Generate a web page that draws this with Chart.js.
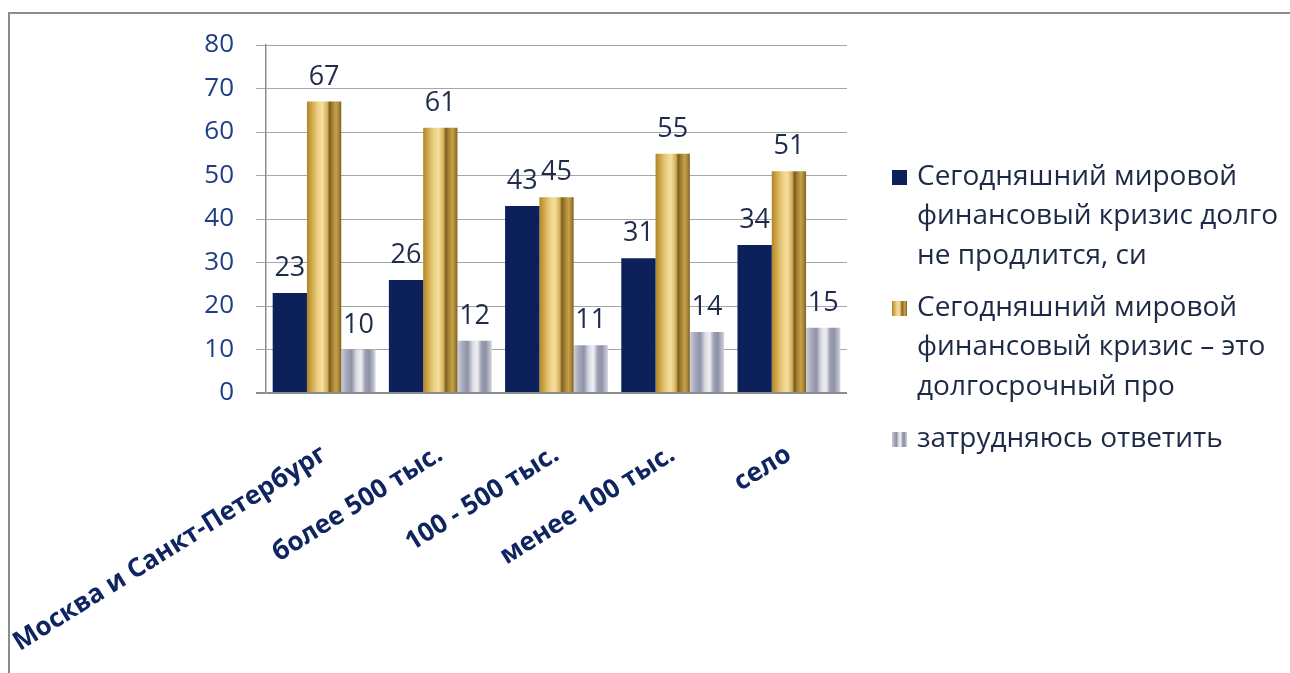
<!DOCTYPE html>
<html lang="ru">
<head>
<meta charset="utf-8">
<title>Финансовый кризис</title>
<script src="https://cdn.jsdelivr.net/npm/chart.js@4.4.0/dist/chart.umd.min.js"></script>
<style>
  html, body { margin: 0; padding: 0; background: #fff; }
  #wrap { position: relative; width: 1290px; height: 673px; overflow: hidden; }
  #frame {
    position: absolute; left: 8px; top: 12px; width: 1300px; height: 700px;
    border-left: 2px solid #8c8c8c; border-top: 2px solid #8c8c8c;
  }
  #chart-crisis { position: absolute; left: 0; top: 0; }
</style>
</head>
<body>
<div id="wrap">
  <div id="frame"></div>
  <canvas id="chart-crisis" width="1290" height="673"></canvas>
</div>
<script>
// data
var categories = ["Москва и Санкт-Петербург", "более 500 тыс.", "100 - 500 тыс.", "менее 100 тыс.", "село"];
var seriesShort = [23, 26, 43, 31, 34];
var seriesLong = [67, 61, 45, 55, 51];
var seriesUnsure = [10, 12, 11, 14, 15];
var seriesNames = [
  "Сегодняшний мировой финансовый кризис долго не продлится, си",
  "Сегодняшний мировой финансовый кризис – это долгосрочный про",
  "затрудняюсь ответить"
];
var legendLines = [
  ["Сегодняшний мировой", "финансовый кризис долго", "не продлится, си"],
  ["Сегодняшний мировой", "финансовый кризис – это", "долгосрочный про"],
  ["затрудняюсь ответить"]
];
var yMin = 0, yMax = 80, yStep = 10;

(function () {
  "use strict";

  var FONT = "'Open Sans', sans-serif";
  var catPct = 0.885;
  var navy = "#0c2159";
  var goldStops = [
    [0, "#ad8628"], [0.1, "#c79e3e"], [0.3, "#ebcd80"], [0.45, "#f4dfa0"],
    [0.6, "#d0ac56"], [0.66, "#7a5b1b"], [0.72, "#9a792f"], [0.85, "#c6a24b"],
    [0.93, "#a68533"], [1, "#7e6020"]
  ];
  var grayStops = [
    [0, "#cfd0da"], [0.15, "#a6a9bb"], [0.3, "#8f93a8"], [0.45, "#dcdde4"],
    [0.58, "#efeff3"], [0.7, "#9c9fb3"], [0.82, "#8e92a7"], [1, "#d3d4dd"]
  ];

  function stripes(c, left, width, stops) {
    var g = c.createLinearGradient(left, 0, left + width, 0);
    stops.forEach(function (s) { g.addColorStop(s[0], s[1]); });
    return g;
  }

  function barFill(stops, solid) {
    return function (ctx) {
      var chart = ctx.chart, xs = chart.scales.x;
      if (!xs || ctx.type !== "data") return solid;
      var bw = xs.width / categories.length * catPct / 3;
      var left = xs.getPixelForValue(ctx.dataIndex) - 1.5 * bw + ctx.datasetIndex * bw;
      if (!isFinite(left) || !isFinite(bw) || bw <= 0) return solid;
      return stripes(chart.ctx, left, bw, stops);
    };
  }

  var valueLabels = {
    id: "valueLabels",
    afterDatasetsDraw: function (chart) {
      var c = chart.ctx;
      c.save();
      c.font = "27px " + FONT;
      c.fillStyle = "#1f2c4b";
      c.textAlign = "center";
      c.textBaseline = "alphabetic";
      chart.data.datasets.forEach(function (ds, i) {
        chart.getDatasetMeta(i).data.forEach(function (bar, j) {
          c.fillText(String(ds.data[j]), bar.x, bar.y - 17);
        });
      });
      c.restore();
    }
  };

  var sideLegend = {
    id: "sideLegend",
    afterDraw: function (chart) {
      var c = chart.ctx;
      var x = chart.chartArea.right + 45;
      var y = 177;
      var lh = 39.5;
      var fills = [navy, goldStops, grayStops];
      c.save();
      c.font = "28px " + FONT;
      c.textBaseline = "middle";
      legendLines.forEach(function (lines, i) {
        c.fillStyle = typeof fills[i] === "string" ? fills[i] : stripes(c, x, 15, fills[i]);
        c.fillRect(x, y - 7, 15, 15);
        c.fillStyle = "#1d2a45";
        lines.forEach(function (t, k) { c.fillText(t, x + 25, y + k * lh); });
        y += lines.length * lh + 12.5;
      });
      c.restore();
    }
  };

  function initCrisisChart() {
    var canvas = document.getElementById("chart-crisis");
    if (!canvas || typeof Chart === "undefined") return;
    Chart.defaults.font.family = FONT;
    new Chart(canvas.getContext("2d"), {
      type: "bar",
      data: {
        labels: categories,
        datasets: [
          { label: seriesNames[0], data: seriesShort, backgroundColor: navy },
          { label: seriesNames[1], data: seriesLong, backgroundColor: barFill(goldStops, "#c9a040") },
          { label: seriesNames[2], data: seriesUnsure, backgroundColor: barFill(grayStops, "#b0b3c3") }
        ]
      },
      options: {
        responsive: false,
        animation: false,
        datasets: { bar: { categoryPercentage: catPct, barPercentage: 1, borderWidth: 0 } },
        layout: { padding: { top: 45, right: 443, bottom: 0, left: 0 } },
        plugins: { legend: { display: false }, tooltip: { enabled: false } },
        scales: {
          x: {
            grid: { display: false },
            border: { display: false },
            ticks: {
              color: "#0f2562",
              font: { size: 26, weight: "bold" },
              minRotation: 32,
              maxRotation: 32,
              autoSkip: false,
              padding: 38
            },
            afterFit: function (s) {
              s.height = 280;
              s.paddingLeft = 0;
              s.paddingRight = 0;
            }
          },
          y: {
            min: yMin,
            max: yMax,
            ticks: { stepSize: yStep, color: "#1f3d87", font: { size: 26 }, padding: 22 },
            grid: {
              tickLength: 10,
              color: function (ctx) { return ctx.tick && ctx.tick.value === 0 ? "#8c8c8c" : "#a6a6a6"; },
              lineWidth: function (ctx) { return ctx.tick && ctx.tick.value === 0 ? 2 : 1; }
            },
            border: { display: true, color: "#8c8c8c", width: 1.5 },
            afterFit: function (s) { s.width = 266; }
          }
        }
      },
      plugins: [valueLabels, sideLegend]
    });
  }

  if (document.readyState === "loading") {
    document.addEventListener("DOMContentLoaded", initCrisisChart);
  } else {
    initCrisisChart();
  }
})();
</script>
</body>
</html>
